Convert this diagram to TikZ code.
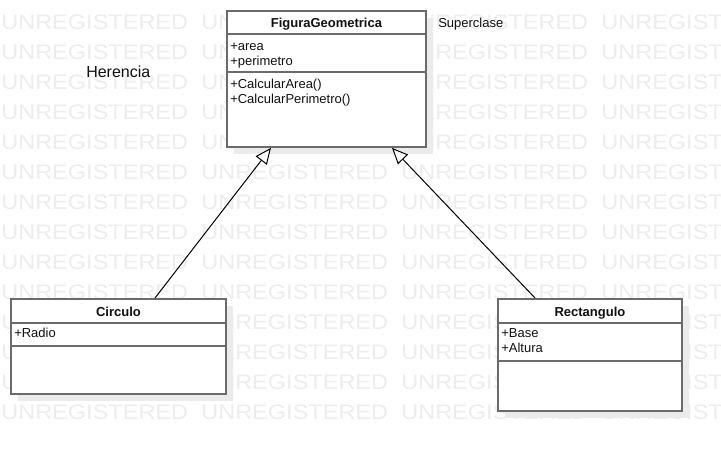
\documentclass[tikz,border=0pt]{standalone}
\usepackage{fontspec}
\setmainfont{Liberation Sans}
\usetikzlibrary{calc,arrows.meta,shadows}

\begin{document}
\begin{tikzpicture}[
    x=0.75pt, y=-0.75pt,
    font=\fontsize{9.75pt}{11.25pt}\selectfont,
    watermark/.style={font=\fontsize{15.75pt}{18pt}\selectfont, text=wm,
      anchor=base west, inner sep=0pt, xscale=1.12},
    classbox/.style={draw=border, line width=1.4pt, fill=white, inner sep=0pt,
      anchor=north west,
      general shadow={fill=shade, shadow xshift=5.25pt, shadow yshift=-5.25pt}},
    sep/.style={draw=border, line width=1.4pt},
    title/.style={font=\fontsize{9.75pt}{11.25pt}\selectfont\bfseries,
      text=ink, anchor=base, inner sep=0pt},
    member/.style={text=ink, anchor=base west, inner sep=0pt},
    note/.style={text=ink, anchor=base west, inner sep=0pt},
    inherit/.style={draw=black, line width=0.75pt,
      -{Triangle[open, fill=white, length=12pt, width=10.5pt]}}
]
\definecolor{ink}{HTML}{111111}
\definecolor{border}{HTML}{6B6B6B}
\definecolor{wm}{HTML}{EDEDED}
\definecolor{shade}{HTML}{EBEBEB}

\def\px{0.75pt}

\useasboundingbox[fill=white] (0,0) rectangle (721,450);

% watermark, 14 rows of 4
\foreach \r in {0,...,13} {
  \foreach \c in {0,...,3} {
    \node[watermark] (wm-\r-\c) at (\c*200+1, 29+\r*30) {UNREGISTERED};
  }
}

% class boxes
\node[classbox, minimum width=199*\px, minimum height=136*\px] (fig) at (226,10) {};
\node[classbox, minimum width=215*\px, minimum height=95*\px] (circ) at (10,298) {};
\node[classbox, minimum width=184*\px, minimum height=112*\px] (rect) at (497,298) {};

% compartments
\draw[sep] ($(fig.north west)+(0,24)$) -- ($(fig.north east)+(0,24)$);
\draw[sep] ($(fig.north west)+(0,62)$) -- ($(fig.north east)+(0,62)$);
\draw[sep] ($(circ.north west)+(0,25)$) -- ($(circ.north east)+(0,25)$);
\draw[sep] ($(circ.north west)+(0,48)$) -- ($(circ.north east)+(0,48)$);
\draw[sep] ($(rect.north west)+(0,25)$) -- ($(rect.north east)+(0,25)$);
\draw[sep] ($(rect.north west)+(0,63)$) -- ($(rect.north east)+(0,63)$);

% names
\node[title] (fig-name) at ($(fig.north)+(0,17)$) {FiguraGeometrica};
\node[title] (circ-name) at ($(circ.north)+(0,18)$) {Circulo};
\node[title] (rect-name) at ($(rect.north)+(0,18)$) {Rectangulo};

% attributes and methods
\foreach \txt/\yy [count=\i] in {+area/40, +perimetro/55,
    +CalcularArea()/78, +CalcularPerimetro()/93} {
  \node[member] (fig-m\i) at ($(fig.north west)+(4,\yy)$) {\txt};
}
\node[member] (circ-m1) at ($(circ.north west)+(4,39)$) {+Radio};
\foreach \txt/\yy [count=\i] in {+Base/39, +Altura/54} {
  \node[member] (rect-m\i) at ($(rect.north west)+(4,\yy)$) {\txt};
}

% notes
\node[note, font=\fontsize{12pt}{14pt}\selectfont] (herencia) at (86,77) {Herencia};
\node[note] (superclase) at (438,27) {Superclase};

% generalisation
\draw[inherit] ($(circ.north west)+(145,0)$) -- ($(fig.south west)+(45,0)$);
\draw[inherit] ($(rect.north west)+(38,0)$) -- ($(fig.south west)+(166,0)$);
\end{tikzpicture}
\end{document}
